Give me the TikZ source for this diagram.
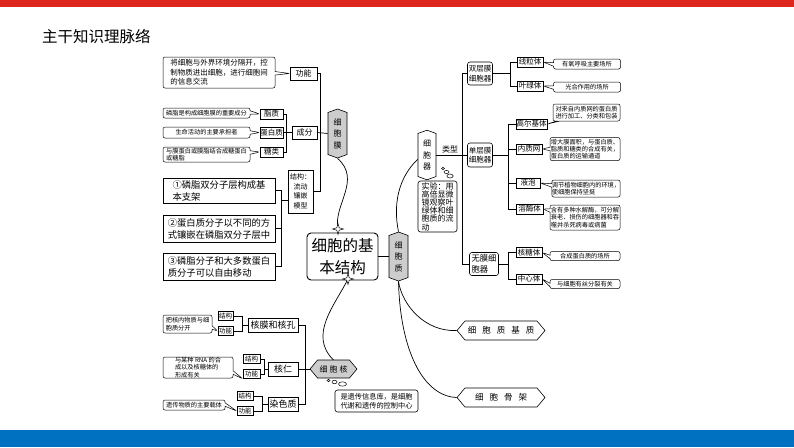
\documentclass[tikz,border=0pt]{standalone}
\usepackage{fontspec}
\setmainfont{Noto Sans CJK SC}
\usetikzlibrary{shapes.symbols,shapes.callouts,shapes.geometric}
\definecolor{redbar}{RGB}{221,39,30}
\definecolor{bluebar}{RGB}{0,112,192}
\definecolor{hexgray}{RGB}{205,205,205}
\newcommand{\fsz}[2]{\fontsize{#1}{#2}\selectfont}
\newcommand{\sparkleat}[1]{\draw[line width=0.5pt, fill=white, shift={(#1)}] (0,-5.5) -- (1.2,-1.2) -- (5.5,0) -- (1.2,1.2) -- (0,5.5) -- (-1.2,1.2) -- (-5.5,0) -- (-1.2,-1.2) -- cycle;}
\begin{document}
\begin{tikzpicture}[x=1pt,y=-1pt,
 bx/.style={draw, line width=0.6pt, inner sep=0pt, font=\fsz{7.5}{8.5}, align=center},
 rbx/.style={bx, rounded corners=2.5pt},
 co/.style={rectangle callout, draw, line width=0.5pt, rounded corners=2pt, callout pointer width=3.5pt, inner sep=0pt, font=\fsz{6.2}{7.3}, align=center},
 hexv/.style={signal, signal to=north and south, signal pointer angle=140, draw, line width=0.6pt, fill=hexgray, inner sep=0pt, font=\fsz{8}{11.5}, align=center},
 chev/.style={signal, signal to=west and east, signal pointer angle=100, draw, line width=0.6pt, inner sep=0pt, font=\fsz{8.5}{10}},
 ln/.style={line width=0.7pt}
]
\useasboundingbox (0,0) rectangle (794,447);
\fill[redbar] (0,0) rectangle (794,7);
\fill[bluebar] (0,430) rectangle (794,447);
\node[anchor=west, font=\fsz{15.5}{18}, inner sep=0pt] (title) at (42,36.5) {主干知识理脉络};

% ---- cell membrane ----
\node[bx, minimum width=27, minimum height=13, font=\fsz{8}{9}] (gn) at (303.5,73.5) {功能};
\node[bx, minimum width=23, minimum height=10] (zz) at (271.5,114) {脂质};
\node[bx, minimum width=23, minimum height=11] (dbz) at (271.5,132.5) {蛋白质};
\node[bx, minimum width=23, minimum height=10] (tl) at (271.5,152) {糖类};
\node[bx, minimum width=25, minimum height=13, font=\fsz{8}{9}] (cf) at (304.5,132.5) {成分};
\node[hexv, minimum width=19, minimum height=45] (xbm) at (337.5,133.5) {细\\胞\\膜};
\node[bx, minimum width=25, minimum height=43, font=\fsz{7}{9.5}] (jg) at (300.5,191.5) {结构：\\流动\\镶嵌\\模型};

\node[co, minimum width=112, minimum height=31, font=\fsz{7.5}{9.5}, align=left, callout absolute pointer={(gn.west)}] (c1) at (219,72.5) {将细胞与外界环境分隔开，控\\制物质进出细胞，进行细胞间\\的信息交流};
\node[co, minimum width=87, minimum height=10, callout absolute pointer={(zz.west)}] (c2) at (206.5,113) {磷脂是构成细胞膜的重要成分};
\node[co, minimum width=87, minimum height=11, callout absolute pointer={(dbz.west)}] (c3) at (206.5,132.5) {生命活动的主要承担者};
\node[co, minimum width=87, minimum height=15, align=left, callout absolute pointer={(tl.west)}] (c4) at (206.5,154.5) {与膜蛋白或膜脂结合成糖蛋白\\或糖脂};

\node[bx, minimum width=112, minimum height=25, font=\fsz{9.3}{12}, align=left] (s1) at (219,190.5) {①磷脂双分子层构成基\\本支架};
\node[bx, minimum width=112, minimum height=27, font=\fsz{9.3}{12}, align=left] (s2) at (219,228.5) {②蛋白质分子以不同的方\\式镶嵌在磷脂双分子层中};
\node[bx, minimum width=112, minimum height=27, font=\fsz{9.3}{12}, align=left] (s3) at (219,266.5) {③磷脂分子和大多数蛋白\\质分子可以自由移动};

\draw[ln] (gn.east) -| (320.5,191.5) -- (jg.east);
\draw[ln] (cf.east) -- (xbm.west);
\draw[ln] (zz.east) -| (286.5,152) -- (tl.east);
\draw[ln] (dbz.east) -- (cf.west);
\draw[ln] (s1.east) -| (281.5,266.5) -- (s3.east);
\draw[ln] (s2.east) -- (281.5,228.5);
\draw[ln] (281.5,200) -- (288,200);

% ---- centre ----
\node[rbx, line width=0.9pt, rounded corners=4pt, minimum width=71, minimum height=47, font=\fsz{15.5}{22}] (ctr) at (342.5,256.5) {细胞的基\\本结构};
\node[hexv, minimum width=19, minimum height=45] (xbz) at (398.5,256.5) {细\\胞\\质};
\draw[ln] (ctr.east) -- (xbz.west);
\coordinate (st1) at (338,229);
\coordinate (st2) at (348,279);
\draw[ln] (xbm.south) .. controls (362,180) and (333,205) .. (st1);
\draw[ln] (st2) .. controls (335,305) and (308,335) .. (333.5,360);

% ---- organelles ----
\node[hexv, fill=white, minimum width=18, minimum height=46] (xbq) at (427,155) {细\\胞\\器};
\node[font=\fsz{8}{9}, inner sep=0pt] (lx) at (450,149.5) {类型};
\draw[line width=0.5pt] (443,168.5) ellipse (1.5 and 1.2);
\draw[line width=0.5pt] (446.5,172) ellipse (2.5 and 1.6);
\draw[line width=0.5pt] (450,176) ellipse (3.2 and 2);
\node[rbx, minimum width=39, minimum height=51, font=\fsz{8}{8.2}, align=left] (exp) at (437.5,206.5) {实验：用\\高倍显微\\镜观察叶\\绿体和细\\胞质的流\\动};
\draw[ln] (xbz.north) .. controls (393,205) and (398,178) .. (xbq.205);

\node[rbx, minimum width=25, minimum height=23, font=\fsz{7.5}{9.5}] (ds) at (480,73.5) {双层膜\\细胞器};
\node[rbx, minimum width=25, minimum height=24, font=\fsz{7.5}{9.5}] (dan) at (480,155) {单层膜\\细胞器};
\node[rbx, minimum width=29, minimum height=23, font=\fsz{8.3}{10.5}, align=left] (wm) at (484,264) {无膜细\\胞器};
\draw[ln] (xbq.east) -- (dan.west);
\draw[ln] (ds.west) -| (462,264) -- (wm.west);

\node[bx, minimum width=26, minimum height=10] (xlt) at (530,62) {线粒体};
\node[bx, minimum width=26, minimum height=10] (ylt) at (530,86) {叶绿体};
\node[bx, minimum width=31, minimum height=10] (gej) at (531.5,124) {高尔基体};
\node[bx, minimum width=26, minimum height=10] (nzw) at (529,149) {内质网};
\node[bx, minimum width=24, minimum height=10] (yp) at (528,183) {液泡};
\node[bx, minimum width=27, minimum height=10] (rmt) at (529.5,209) {溶酶体};
\node[bx, minimum width=26, minimum height=10] (htt) at (529,252.5) {核糖体};
\node[bx, minimum width=26, minimum height=10] (zxt) at (529,279) {中心体};

\draw[ln] (ds.east) -- (510,73.5);
\draw[ln] (xlt.west) -| (510,86) -- (ylt.west);
\draw[ln] (dan.east) -- (508,155);
\draw[ln] (gej.west) -| (508,209) -- (rmt.west);
\draw[ln] (nzw.west) -- (508,149);
\draw[ln] (yp.west) -- (508,183);
\draw[ln] (wm.east) -- (508,264);
\draw[ln] (htt.west) -| (508,279) -- (zxt.west);

\node[co, minimum width=67, minimum height=10, callout absolute pointer={(xlt.east)}] (r1) at (587,64) {有氧呼吸主要场所};
\node[co, minimum width=67, minimum height=10, callout absolute pointer={(ylt.east)}] (r2) at (587,87) {光合作用的场所};
\node[co, minimum width=67, minimum height=17, callout absolute pointer={(gej.east)}] (r3) at (586.5,112.5) {对来自内质网的蛋白质\\进行加工、分类和包装};
\node[co, minimum width=70, minimum height=23, align=left, callout absolute pointer={(nzw.east)}] (r4) at (585,149) {增大膜面积，与蛋白质、\\脂质和糖类的合成有关，\\蛋白质的运输通道};
\node[co, minimum width=68, minimum height=17, align=left, callout absolute pointer={(yp.east)}] (r5) at (586,188.5) {调节植物细胞内的环境，\\使细胞保持坚挺};
\node[co, minimum width=70, minimum height=25, align=left, callout absolute pointer={(rmt.east)}] (r6) at (585,217.5) {含有多种水解酶，可分解\\衰老、损伤的细胞器和吞\\噬并杀死病毒或病菌};
\node[co, minimum width=70, minimum height=9, callout absolute pointer={(htt.east)}] (r7) at (585,256) {合成蛋白质的场所};
\node[co, minimum width=70, minimum height=9, callout absolute pointer={(zxt.east)}] (r8) at (585,284) {与细胞有丝分裂有关};

% ---- cytoplasm matrix / skeleton ----
\node[chev, minimum width=88, minimum height=19] (jz) at (501,330.5) {细\hspace{6pt}胞\hspace{6pt}质\hspace{6pt}基\hspace{6pt}质};
\node[chev, minimum width=88, minimum height=19] (gj) at (501,397.5) {细\hspace{6pt}胞\hspace{6pt}骨\hspace{6pt}架};
\draw[ln] (xbz.south) .. controls (402,305) and (425,332) .. (jz.west);
\draw[ln] (xbz.south) .. controls (400,348) and (422,396) .. (gj.west);

% ---- nucleus ----
\node[chev, fill=hexgray, minimum width=47, minimum height=18, font=\fsz{8}{10}] (xbh) at (333.5,369) {细\hspace{2pt}胞\hspace{2pt}核};
\sparkleat{st1}
\sparkleat{st2}
\draw[line width=0.5pt] (328.5,380.5) ellipse (1.5 and 1.2);
\draw[line width=0.5pt] (334.5,382) ellipse (2.5 and 1.8);
\draw[line width=0.5pt] (342.5,384) ellipse (4 and 2.2);
\node[rbx, minimum width=83, minimum height=22, font=\fsz{7.2}{9}] (hb) at (376.5,401) {是遗传信息库，是细胞\\代谢和遗传的控制中心};

\node[bx, minimum width=50, minimum height=14, font=\fsz{9}{10}] (hm) at (273,325) {核膜和核孔};
\node[bx, minimum width=30, minimum height=14, font=\fsz{9}{10}] (hr) at (283,369) {核仁};
\node[bx, minimum width=30, minimum height=14, font=\fsz{9}{10}] (rsz) at (283,404) {染色质};
\draw[ln] (hm.east) -| (305,404) -- (rsz.east);
\draw[ln] (hr.east) -- (xbh.west);

\node[bx, minimum width=15, minimum height=9, font=\fsz{6.5}{7}] (hmj) at (225.5,316) {结构};
\node[bx, minimum width=15, minimum height=9, font=\fsz{6.5}{7}] (hmg) at (225.5,331) {功能};
\node[bx, minimum width=17, minimum height=9, font=\fsz{6.5}{7}] (hrj) at (251.5,359) {结构};
\node[bx, minimum width=17, minimum height=9, font=\fsz{6.5}{7}] (hrg) at (251.5,374) {功能};
\node[bx, minimum width=16, minimum height=9, font=\fsz{6.5}{7}] (rszj) at (245,396) {结构};
\node[bx, minimum width=16, minimum height=9, font=\fsz{6.5}{7}] (rszg) at (245,411) {功能};
\draw[ln] (hmj.east) -| (242,331) -- (hmg.east);
\draw[ln] (242,325) -- (hm.west);
\draw[ln] (hrj.east) -| (264.5,374) -- (hrg.east);
\draw[ln] (264.5,369) -- (hr.west);
\draw[ln] (rszj.east) -| (262,411) -- (rszg.east);
\draw[ln] (262,404) -- (rsz.west);

\node[co, minimum width=49, minimum height=18, align=left, callout absolute pointer={(hmg.west)}] (n1) at (187.5,324) {把核内物质与细\\胞质分开};
\node[co, minimum width=70, minimum height=21, align=left, callout absolute pointer={(hrg.south west)}] (n2) at (198,367.5) {与某种 RNA 的合\\成以及核糖体的\\形成有关};
\node[co, minimum width=62, minimum height=10, callout absolute pointer={(rszg.west)}] (n3) at (194,405) {遗传物质的主要载体};
\end{tikzpicture}
\end{document}
